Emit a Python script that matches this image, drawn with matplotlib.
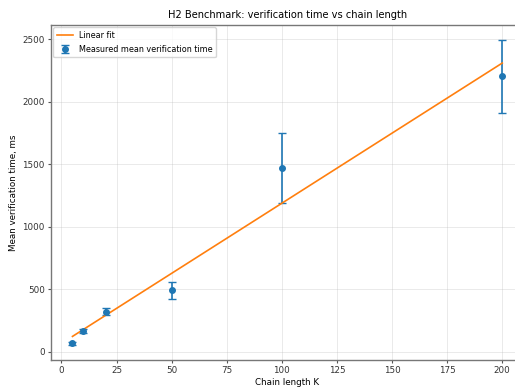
import matplotlib
matplotlib.use("Agg")
import matplotlib.pyplot as plt
import numpy as np

# длины цепочки и измеренные средние времена проверки
chain_k = np.array([5, 10, 20, 50, 100, 200])
mean_ms = np.array([70, 168, 323, 492, 1470, 2202])
err_ms = np.array([12, 14, 28, 70, 278, 290])

# линейная аппроксимация
slope, intercept = np.polyfit(chain_k, mean_ms, 1)
fit_ms = slope * chain_k + intercept

fig = plt.figure(figsize=(5.15, 3.9), dpi=100)
ax = fig.add_axes([0.099, 0.077, 0.918, 0.859])

ax.errorbar(chain_k, mean_ms, yerr=err_ms, fmt="o", color="C0", markersize=4,
            capsize=3, elinewidth=1.2, label="Measured mean verification time")
ax.plot(chain_k, fit_ms, color="C1", linewidth=1.2, label="Linear fit")

ax.set_title("H2 Benchmark: verification time vs chain length", fontsize=7.1, pad=5)
ax.set_xlabel("Chain length K", fontsize=6.3, labelpad=2)
ax.set_ylabel("Mean verification time, ms", fontsize=6.3, labelpad=3)
ax.tick_params(labelsize=6.3, color="#555555", labelcolor="#333333",
               length=2.5, pad=2)
ax.set_xticks([0, 25, 50, 75, 100, 125, 150, 175, 200])
ax.grid(True, alpha=0.3, linewidth=0.6)
for s in ax.spines.values():
    s.set_color("#777777")
    s.set_linewidth(1.0)
ax.legend(loc="upper left", fontsize=5.8, labelspacing=0.7, borderaxespad=0.3)

fig.savefig("out.png", dpi=100)
